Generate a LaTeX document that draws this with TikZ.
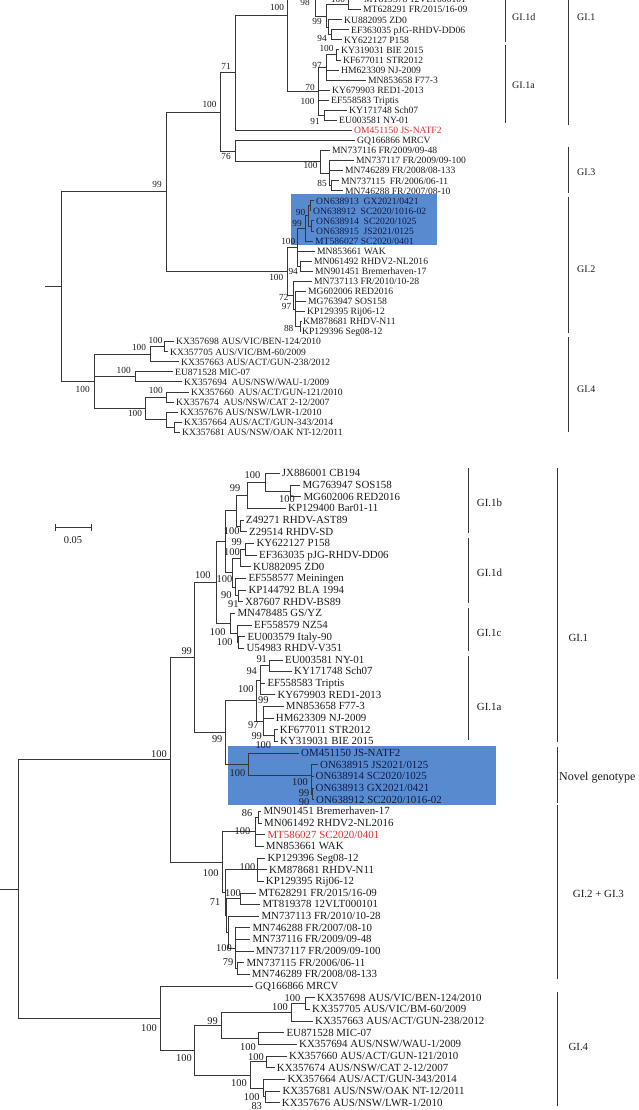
\documentclass[tikz,border=0pt]{standalone}
\usepackage{fontspec}
\setmainfont{Liberation Serif}
\newcommand{\ftop}{\fontsize{9.6}{10}\selectfont}
\newcommand{\fbot}{\fontsize{10.9}{12}\selectfont}
\newcommand{\fbst}{\fontsize{9.3}{10}\selectfont}
\newcommand{\fbsb}{\fontsize{10.4}{11}\selectfont}
\definecolor{linec}{RGB}{55,55,55}
\definecolor{txt}{RGB}{30,28,30}
\definecolor{boxblue}{RGB}{88,138,208}
\definecolor{navy}{RGB}{16,26,70}
\definecolor{redt}{RGB}{222,45,50}
\tikzset{
  br/.style={draw=linec, line width=0.75pt},
  lt/.style={anchor=west, inner xsep=2pt, inner ysep=0pt, text height=0.68em, text depth=0pt, font=\ftop, text=txt},
  lb/.style={anchor=west, inner xsep=2pt, inner ysep=0pt, text height=0.68em, text depth=0pt, font=\fbot, text=txt},
  bst/.style={inner sep=0pt, text height=0.68em, text depth=0pt, font=\fbst, text=txt},
  bsb/.style={inner sep=0pt, text height=0.68em, text depth=0pt, font=\fbsb, text=txt},
  cladet/.style={anchor=west, inner sep=0pt, text height=0.68em, text depth=0pt, font=\fontsize{10}{11}\selectfont, text=txt},
  cladeb/.style={anchor=west, inner sep=0pt, text height=0.68em, text depth=0pt, font=\fontsize{10.9}{12}\selectfont, text=txt},
  bracket/.style={draw=linec, line width=0.9pt},
  hibox/.style={fill=boxblue, draw=none},
  nv/.style={text=navy},
  rd/.style={text=redt}
}
\begin{document}
\begin{tikzpicture}[x=1pt,y=-1pt]
\useasboundingbox (0,0) rectangle (638,1110);
\clip (0,0) rectangle (638,1110);
\fill[white] (0,0) rectangle (638,1110);
% ================= TOP TREE =================
\fill[hibox] (291,194.3) rectangle (436.7,245);
\node[lt] (tMT819378) at (362,-0.46) {MT819378 12VLT000101};
\node[lt] (tMT628291) at (361,9.6) {MT628291 FR/2015/16-09};
\node[lt] (tKU882095) at (342,19.66) {KU882095 ZD0};
\node[lt] (tEF363035) at (349,29.72) {EF363035 pJG-RHDV-DD06};
\node[lt] (tKY622127) at (342,39.78) {KY622127 P158};
\node[lt] (tKY319031) at (339,49.84) {KY319031 BIE 2015};
\node[lt] (tKF677011) at (341,59.9) {KF677011 STR2012};
\node[lt] (tHM623309) at (339,69.96) {HM623309 NJ-2009};
\node[lt] (tMN853658) at (366,80.02) {MN853658 F77-3};
\node[lt] (tKY679903) at (330,90.08) {KY679903 RED1-2013};
\node[lt] (tEF558583) at (329,100.14) {EF558583 Triptis};
\node[lt] (tKY171748) at (347,110.2) {KY171748 Sch07};
\node[lt] (tEU003581) at (337,120.26) {EU003581 NY-01};
\node[lt,rd] (tOM451150) at (352,130.32) {OM451150 JS-NATF2};
\node[lt] (tGQ166866) at (355,140.38) {GQ166866 MRCV};
\node[lt] (tMN737116) at (330,150.44) {MN737116 FR/2009/09-48};
\node[lt] (tMN737117) at (354,160.5) {MN737117 FR/2009/09-100};
\node[lt] (tMN746289) at (343,170.56) {MN746289 FR/2008/08-133};
\node[lt] (tMN737115) at (339,180.62) {MN737115 \ FR/2006/06-11};
\node[lt] (tMN746288) at (343,190.68) {MN746288 FR/2007/08-10};
\node[lt,nv] (tON638913) at (314,200.74) {ON638913 \ GX2021/0421};
\node[lt,nv] (tON638912) at (311,210.8) {ON638912 \ SC2020/1016-02};
\node[lt,nv] (tON638914) at (314,220.86) {ON638914 \ SC2020/1025};
\node[lt,nv] (tON638915) at (314,230.92) {ON638915 \ JS2021/0125};
\node[lt,nv] (tMT586027) at (313,240.98) {MT586027 SC2020/0401};
\node[lt] (tMN853661) at (315,251.04) {MN853661 WAK};
\node[lt] (tMN061492) at (312,261.1) {MN061492 RHDV2-NL2016};
\node[lt] (tMN901451) at (313,271.16) {MN901451 Bremerhaven-17};
\node[lt] (tMN737113) at (312,281.22) {MN737113 FR/2010/10-28};
\node[lt] (tMG602006) at (306,291.28) {MG602006 RED2016};
\node[lt] (tMG763947) at (306,301.34) {MG763947 SOS158};
\node[lt] (tKP129395) at (305,311.4) {KP129395 Rij06-12};
\node[lt] (tKM878681) at (301,321.46) {KM878681 RHDV-N11};
\node[lt] (tKP129396) at (300,331.52) {KP129396 Seg08-12};
\node[lt] (tKX357698) at (174,341.58) {KX357698 AUS/VIC/BEN-124/2010};
\node[lt] (tKX357705) at (168,351.64) {KX357705 AUS/VIC/BM-60/2009};
\node[lt] (tKX357663) at (179,361.7) {KX357663 AUS/ACT/GUN-238/2012};
\node[lt] (tEU871528) at (173,371.76) {EU871528 MIC-07};
\node[lt] (tKX357694) at (182,381.82) {KX357694 \ AUS/NSW/WAU-1/2009};
\node[lt] (tKX357660) at (189,391.88) {KX357660 \ AUS/ACT/GUN-121/2010};
\node[lt] (tKX357674) at (174,401.94) {KX357674 \ AUS/NSW/CAT 2-12/2007};
\node[lt] (tKX357676) at (178,412.0) {KX357676 AUS/NSW/LWR-1/2010};
\node[lt] (tKX357664) at (182,422.06) {KX357664 AUS/ACT/GUN-343/2014};
\node[lt] (tKX357681) at (180,432.12) {KX357681 AUS/NSW/OAK NT-12/2011};
% internal nodes
\coordinate (tR0s) at (45,286.4);
\coordinate (tR0) at (61,286.4);
\coordinate (tA) at (166,191.55);
\coordinate (tB) at (220,111.9);
\coordinate (tC) at (235.7,72.8);
\coordinate (tD) at (287.3,15.3);
\coordinate (tP) at (315,-62);
\coordinate (tPup) at (330,-140);
\coordinate (tQ) at (326,15.9);
\coordinate (tT1) at (348,4.57);
\coordinate (tQ2) at (328,27.2);
\coordinate (tR) at (331,34.75);
\coordinate (tL) at (318.3,91.3);
\coordinate (tK) at (326.7,67.4);
\coordinate (tN) at (336,54.87);
\coordinate (tM) at (324,115.23);
\coordinate (tE) at (235.7,151);
\coordinate (tG3) at (320.7,161.7);
\coordinate (tH) at (329,173);
\coordinate (tJ) at (331,185.65);
\coordinate (tGI2) at (287.3,271.2);
\coordinate (tGA) at (297.7,247.3);
\coordinate (tB3) at (305,228.4);
\coordinate (tB2) at (308,215.83);
\coordinate (tB1) at (310,205.77);
\coordinate (tB4) at (311,225.89);
\coordinate (tN2) at (300,266.13);
\coordinate (tLG) at (293.3,295.06);
\coordinate (tLG2) at (295.5,308.9);
\coordinate (tLG4) at (300.5,326.49);
\coordinate (tG4) at (94.3,381.2);
\coordinate (tG4a) at (150.7,354.16);
\coordinate (tG4b) at (164.3,346.61);
\coordinate (tM4) at (135,376.79);
\coordinate (tL4) at (145.7,408.2);
\coordinate (tL4a) at (166.7,396.91);
\coordinate (tL4b) at (166,419.5);
\coordinate (tL4c) at (174,427.09);
\draw[br] (tR0s) -- (tR0);
\foreach \p/\c in {tR0/tA, tR0/tG4, tA/tB, tA/tGI2, tB/tC, tB/tE, tC/tD, tC/tOM451150,
  tD/tP, tD/tL, tP/tPup, tP/tQ, tQ/tT1, tQ/tQ2, tT1/tMT819378, tT1/tMT628291,
  tQ2/tKU882095, tQ2/tR, tR/tEF363035, tR/tKY622127,
  tL/tK, tL/tKY679903, tL/tEF558583, tL/tM, tK/tN, tK/tHM623309, tK/tMN853658,
  tN/tKY319031, tN/tKF677011, tM/tKY171748, tM/tEU003581,
  tE/tGQ166866, tE/tG3, tG3/tMN737116, tG3/tH, tH/tMN737117, tH/tMN746289, tH/tJ,
  tJ/tMN737115, tJ/tMN746288,
  tGI2/tGA, tGI2/tLG, tGA/tB3, tGA/tMN853661, tGA/tN2, tB3/tB2, tB3/tMT586027,
  tB2/tB1, tB2/tB4, tB1/tON638913, tB1/tON638912, tB4/tON638914, tB4/tON638915,
  tN2/tMN061492, tN2/tMN901451, tLG/tMN737113, tLG/tLG2,
  tLG2/tMG602006, tLG2/tMG763947, tLG2/tKP129395, tLG2/tLG4, tLG4/tKM878681, tLG4/tKP129396,
  tG4/tG4a, tG4/tM4, tG4/tL4, tG4a/tG4b, tG4a/tKX357663, tG4b/tKX357698, tG4b/tKX357705,
  tM4/tEU871528, tM4/tKX357694, tL4/tL4a, tL4/tL4b, tL4a/tKX357660, tL4a/tKX357674,
  tL4b/tKX357676, tL4b/tL4c, tL4c/tKX357664, tL4c/tKX357681}
  \draw[br] (\p) |- (\c);
% top bootstrap values
\foreach [count=\i] \x/\y/\t in {305/2.5/98, 338/-0.5/100, 277/7.5/100, 317/20.7/99, 322/37.8/94,
  326.5/48/100, 317/65/97, 310/86.7/70, 307.5/100.7/100, 315/120.7/91, 226/65.7/71,
  209.5/104/100, 226/155.7/76, 310.5/165.3/100, 322/183.2/85, 157/184/99,
  300.5/211.7/90, 297/222.7/99, 288.3/240.7/100, 293.2/270.7/94, 276.3/276.7/100,
  283.8/296.7/72, 286.5/306.3/97, 288.7/327.7/88,
  155.5/340/100, 139/347.3/100, 123.7/370/100, 82.7/389/100, 155.8/390/100, 135/413.3/100}
  \node[bst] (tbs\i) at (\x,\y) {\t};
% top clade brackets
\draw[bracket] (505,-5) -- (505,42);
\draw[bracket] (505,45.3) -- (505,123.3);
\draw[bracket] (568,-5) -- (568,125);
\draw[bracket] (568,146.7) -- (568,193.3);
\draw[bracket] (568,197) -- (568,333);
\draw[bracket] (568,337) -- (568,432);
\node[cladet] (tcl1d) at (512,17) {GI.1d};
\node[cladet] (tcl1a) at (512,85) {GI.1a};
\node[cladet] (tcl1) at (577,17) {GI.1};
\node[cladet] (tcl3) at (577,172) {GI.3};
\node[cladet] (tcl2) at (577,269) {GI.2};
\node[cladet] (tcl4) at (577,389) {GI.4};
% ================= SCALE BAR =================
\coordinate (sbA) at (55,527.3);
\coordinate (sbB) at (91,527.3);
\draw[br] (sbA) -- (sbB);
\draw[br] ([yshift=3.5pt]sbA) -- ([yshift=-3.5pt]sbA);
\draw[br] ([yshift=3.5pt]sbB) -- ([yshift=-3.5pt]sbB);
\node[bsb] (sbT) at (73,540) {0.05};
% ================= BOTTOM TREE =================
\fill[hibox] (228.3,746) rectangle (496,805);
\node[lb] (bJX886001) at (279.7,473.5) {JX886001 CB194};
\node[lb] (bMG763947) at (300.3,485.15) {MG763947 SOS158};
\node[lb] (bMG602006) at (301.3,496.8) {MG602006 RED2016};
\node[lb] (bKP129400) at (286,508.45) {KP129400 Bar01-11};
\node[lb] (bZ49271) at (243.7,520.1) {Z49271 RHDV-AST89};
\node[lb] (bZ29514) at (247,531.75) {Z29514 RHDV-SD};
\node[lb] (bKY622127) at (254.3,543.4) {KY622127 P158};
\node[lb] (bEF363035) at (257,555.05) {EF363035 pJG-RHDV-DD06};
\node[lb] (bKU882095) at (251,566.7) {KU882095 ZD0};
\node[lb] (bEF558577) at (246.3,578.35) {EF558577 Meiningen};
\node[lb] (bKP144792) at (246.3,590) {KP144792 BLA 1994};
\node[lb] (bX87607) at (243,601.65) {X87607 RHDV-BS89};
\node[lb] (bMN478485) at (235.3,613.3) {MN478485 GS/YZ};
\node[lb] (bEF558579) at (252,624.95) {EF558579 NZ54};
\node[lb] (bEU003579) at (245.3,636.6) {EU003579 Italy-90};
\node[lb] (bU54983) at (244.3,648.25) {U54983 RHDV-V351};
\node[lb] (bEU003581) at (283,659.9) {EU003581 NY-01};
\node[lb] (bKY171748) at (292,671.55) {KY171748 Sch07};
\node[lb] (bEF558583) at (265.3,683.2) {EF558583 Triptis};
\node[lb] (bKY679903) at (275.3,694.85) {KY679903 RED1-2013};
\node[lb] (bMN853658) at (283.7,706.5) {MN853658 F77-3};
\node[lb] (bHM623309) at (273.7,718.15) {HM623309 NJ-2009};
\node[lb] (bKF677011) at (277.7,729.8) {KF677011 STR2012};
\node[lb] (bKY319031) at (278,741.45) {KY319031 BIE 2015};
\node[lb,nv] (bOM451150) at (299,753.1) {OM451150 JS-NATF2};
\node[lb,nv] (bON638915) at (318,764.75) {ON638915 JS2021/0125};
\node[lb,nv] (bON638914) at (313.5,776.4) {ON638914 SC2020/1025};
\node[lb,nv] (bON638913) at (313.5,788.05) {ON638913 GX2021/0421};
\node[lb,nv] (bON638912) at (314,799.7) {ON638912 SC2020/1016-02};
\node[lb] (bMN901451) at (261.3,811.35) {MN901451 Bremerhaven-17};
\node[lb] (bMN061492) at (262,823) {MN061492 RHDV2-NL2016};
\node[lb,rd] (bMT586027) at (265.3,834.65) {MT586027 SC2020/0401};
\node[lb] (bMN853661) at (263.7,846.3) {MN853661 WAK};
\node[lb] (bKP129396) at (265.3,857.95) {KP129396 Seg08-12};
\node[lb] (bKM878681) at (267,869.6) {KM878681 RHDV-N11};
\node[lb] (bKP129395) at (263.7,881.25) {KP129395 Rij06-12};
\node[lb] (bMT628291) at (256.3,892.9) {MT628291 FR/2015/16-09};
\node[lb] (bMT819378) at (260.3,904.55) {MT819378 12VLT000101};
\node[lb] (bMN737113) at (259.3,916.2) {MN737113 FR/2010/10-28};
\node[lb] (bMN746288) at (250.3,927.85) {MN746288 FR/2007/08-10};
\node[lb] (bMN737116) at (250.3,939.5) {MN737116 FR/2009/09-48};
\node[lb] (bMN737117) at (253.7,951.15) {MN737117 FR/2009/09-100};
\node[lb] (bMN737115) at (244.3,962.8) {MN737115 FR/2006/06-11};
\node[lb] (bMN746289) at (249.7,974.45) {MN746289 FR/2008/08-133};
\node[lb] (bGQ166866) at (253,986.1) {GQ166866 MRCV};
\node[lb] (bKX357698) at (315,997.75) {KX357698 AUS/VIC/BEN-124/2010};
\node[lb] (bKX357705) at (310,1009.4) {KX357705 AUS/VIC/BM-60/2009};
\node[lb] (bKX357663) at (313,1021.05) {KX357663 AUS/ACT/GUN-238/2012};
\node[lb] (bEU871528) at (284.3,1032.7) {EU871528 MIC-07};
\node[lb] (bKX357694) at (297,1044.35) {KX357694 AUS/NSW/WAU-1/2009};
\node[lb] (bKX357660) at (287,1056) {KX357660 AUS/ACT/GUN-121/2010};
\node[lb] (bKX357674) at (274.7,1067.65) {KX357674 AUS/NSW/CAT 2-12/2007};
\node[lb] (bKX357664) at (285.3,1079.3) {KX357664 AUS/ACT/GUN-343/2014};
\node[lb] (bKX357681) at (280.3,1090.95) {KX357681 AUS/NSW/OAK NT-12/2011};
\node[lb] (bKX357676) at (279.7,1102.6) {KX357676 AUS/NSW/LWR-1/2010};
% internal nodes
\coordinate (bR2s) at (0,889);
\coordinate (bR2) at (18.3,889);
\coordinate (bU) at (170,759.8);
\coordinate (bV) at (194.3,657.4);
\coordinate (bW) at (216.7,582.5);
\coordinate (bBD) at (225.7,541.6);
\coordinate (bJZ) at (236,510.64);
\coordinate (bJ0) at (247.3,495.35);
\coordinate (bJ1) at (265,482.24);
\coordinate (bJ2) at (290.7,490.98);
\coordinate (bZ) at (240,525.93);
\coordinate (bD5) at (232,572.5);
\coordinate (bD2) at (240,557.96);
\coordinate (bD1) at (245.7,549.23);
\coordinate (bD3) at (235.7,587.09);
\coordinate (bD4) at (238.3,595.83);
\coordinate (bC0) at (230,623.5);
\coordinate (bC1) at (237,633.69);
\coordinate (bC2) at (238,642.43);
\coordinate (bX) at (225.7,732.35);
\coordinate (bA1) at (256.7,700.7);
\coordinate (bA2) at (260,680.3);
\coordinate (bA4) at (269.3,665.73);
\coordinate (bA3) at (263.3,721.07);
\coordinate (bA6) at (274,735.63);
\coordinate (bNV) at (248.3,764);
\coordinate (bNB) at (311,774.9);
\coordinate (bNB2) at (311.8,785.1);
\coordinate (bNB3) at (312.5,793.9);
\coordinate (bY) at (222.3,862.1);
\coordinate (bG2a) at (255,831.75);
\coordinate (bG2b) at (258.3,817.2);
\coordinate (bZ1) at (225.7,892.5);
\coordinate (bK1) at (257,869.6);
\coordinate (bZ2) at (226.7,915.5);
\coordinate (bMT2) at (240,898.73);
\coordinate (bZ3) at (228.3,932.2);
\coordinate (bZ4) at (235,948.24);
\coordinate (bZ5) at (237.3,968.63);
\coordinate (bR2b) at (160.7,1018.15);
\coordinate (bR2c) at (194.3,1050.2);
\coordinate (bR2d) at (221.7,1025.4);
\coordinate (bR2e) at (291.7,1012.3);
\coordinate (bR2f) at (305,1003.58);
\coordinate (bR2g) at (258.3,1038.5);
\coordinate (bR2h) at (250,1074.9);
\coordinate (bR2i) at (266.7,1061.83);
\coordinate (bR2j) at (263.3,1088.04);
\coordinate (bR2k) at (265,1096.78);
\draw[br] (bR2s) -- (bR2);
\foreach \p/\c in {bR2/bU, bR2/bR2b, bU/bV, bU/bY, bV/bW, bV/bX, bW/bBD, bW/bC0,
  bBD/bJZ, bBD/bD5, bJZ/bJ0, bJZ/bZ, bJ0/bJ1, bJ0/bKP129400, bJ1/bJX886001, bJ1/bJ2,
  bJ2/bMG763947, bJ2/bMG602006, bZ/bZ49271, bZ/bZ29514,
  bD5/bD2, bD5/bD3, bD2/bD1, bD2/bKU882095, bD1/bKY622127, bD1/bEF363035,
  bD3/bEF558577, bD3/bD4, bD4/bKP144792, bD4/bX87607,
  bC0/bMN478485, bC0/bC1, bC1/bEF558579, bC1/bC2, bC2/bEU003579, bC2/bU54983,
  bX/bA1, bX/bNV, bA1/bA2, bA1/bA3, bA2/bA4, bA2/bEF558583, bA2/bKY679903,
  bA4/bEU003581, bA4/bKY171748, bA3/bMN853658, bA3/bHM623309, bA3/bA6,
  bA6/bKF677011, bA6/bKY319031,
  bNV/bOM451150, bNV/bNB, bNB/bON638915, bNB/bNB2, bNB2/bON638914, bNB2/bNB3,
  bNB3/bON638913, bNB3/bON638912,
  bY/bG2a, bY/bZ1, bG2a/bG2b, bG2a/bMT586027, bG2a/bMN853661, bG2b/bMN901451, bG2b/bMN061492,
  bZ1/bK1, bZ1/bZ2, bK1/bKP129396, bK1/bKM878681, bK1/bKP129395,
  bZ2/bMT2, bZ2/bZ3, bMT2/bMT628291, bMT2/bMT819378, bZ3/bMN737113, bZ3/bZ4,
  bZ4/bMN746288, bZ4/bMN737116, bZ4/bMN737117, bZ4/bZ5, bZ5/bMN737115, bZ5/bMN746289,
  bR2b/bGQ166866, bR2b/bR2c, bR2c/bR2d, bR2c/bR2h, bR2d/bR2e, bR2d/bR2g,
  bR2e/bR2f, bR2e/bKX357663, bR2f/bKX357698, bR2f/bKX357705, bR2g/bEU871528, bR2g/bKX357694,
  bR2h/bR2i, bR2h/bR2j, bR2i/bKX357660, bR2i/bKX357674, bR2j/bKX357664, bR2j/bR2k,
  bR2k/bKX357681, bR2k/bKX357676}
  \draw[br] (\p) |- (\c);
% bottom bootstrap values
\foreach [count=\i] \x/\y/\t in {252.5/475/100, 235/488.3/99, 287/499/100, 231.7/530.7/100,
  236.7/541.7/99, 232/552.3/100, 224.5/579/100, 226.3/595/90, 233.3/604/91, 202.8/575/100,
  217.7/632/100, 224.7/641.7/100, 186.7/650.7/99, 261.7/659.3/91, 251.7/670.7/94,
  245.8/689.3/100, 263.3/700/99, 253.3/725/97, 256.7/736/99, 263.3/745/100, 217.2/739.3/99,
  237.5/772.7/100, 300/781.7/100, 304/793.3/99, 304/801.7/90, 159/754.3/100,
  247/812.7/86, 242.5/830.7/100, 247.5/867.3/100, 210.7/873.3/100, 233/893.3/100,
  215/902.3/71, 224/948.3/100, 228/961.7/79, 149/1027.7/100, 212.5/1020.7/99,
  280/1007.3/100, 292.5/998.3/100, 248/1047.3/100, 184/1058.3/100, 256/1056.7/100,
  239/1083.3/100, 251.7/1096.7/100, 256.7/1106/83}
  \node[bsb] (bbs\i) at (\x,\y) {\t};
% bottom clade brackets
\draw[bracket] (468.3,468.3) -- (468.3,532.7);
\draw[bracket] (468.3,538.3) -- (468.3,603.3);
\draw[bracket] (468.3,608.3) -- (468.3,650.7);
\draw[bracket] (468.3,656) -- (468.3,740);
\draw[bracket] (557.7,468.3) -- (557.7,741.7);
\draw[bracket] (557.7,747.3) -- (557.7,802.7);
\draw[bracket] (557.7,805) -- (557.7,979.3);
\draw[bracket] (557.7,991.7) -- (557.7,1106);
\node[cladeb] (bcl1b) at (476.7,503.3) {GI.1b};
\node[cladeb] (bcl1d) at (476.7,573.3) {GI.1d};
\node[cladeb] (bcl1c) at (476.7,632.7) {GI.1c};
\node[cladeb] (bcl1a) at (476.7,706.7) {GI.1a};
\node[cladeb] (bcl1) at (568.3,638) {GI.1};
\node[cladeb, font=\fontsize{12}{13}\selectfont] (bclnov) at (559,776.7) {Novel genotype};
\node[cladeb] (bcl23) at (572.7,894.3) {GI.2 + GI.3};
\node[cladeb] (bcl4) at (568.3,1046.7) {GI.4};
\end{tikzpicture}
\end{document}
